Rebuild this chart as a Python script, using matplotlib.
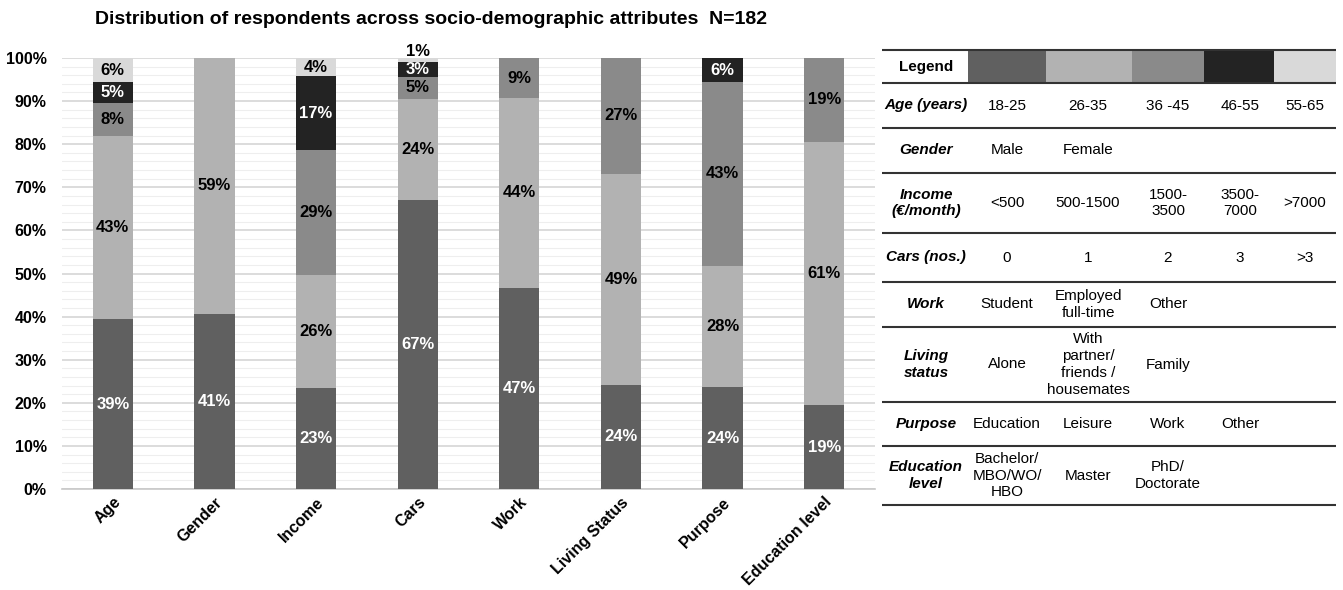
import matplotlib.pyplot as plt
from matplotlib.patches import Rectangle
from matplotlib.ticker import MultipleLocator

plt.rcParams['font.family'] = ['Liberation Sans', 'DejaVu Sans']

categories = ['Age', 'Gender', 'Income', 'Cars', 'Work', 'Living Status', 'Purpose', 'Education level']

# share of respondents (%) for each answer level, bottom to top
age = [39.4, 42.6, 7.6, 4.8, 5.6]
gender = [40.7, 59.3]
income = [23.4, 26.3, 28.9, 17.2, 4.2]
cars = [67.0, 23.6, 5.1, 3.3, 1.0]
work = [46.7, 44.0, 9.3]
living = [24.2, 48.9, 26.9]
purpose = [23.6, 28.2, 42.6, 5.6]
education = [19.4, 61.2, 19.4]
shares = [age, gender, income, cars, work, living, purpose, education]

level_colors = ['#606060', '#b2b2b2', '#8a8a8a', '#232323', '#d9d9d9']
text_colors = ['white', 'black', 'black', 'white', 'black']

# legend table
row_names = ['Age (years)', 'Gender', 'Income\n(€/month)', 'Cars (nos.)', 'Work',
             'Living\nstatus', 'Purpose', 'Education\nlevel']
row_items = [
    ['18-25', '26-35', '36 -45', '46-55', '55-65'],
    ['Male', 'Female'],
    ['<500', '500-1500', '1500-\n3500', '3500-\n7000', '>7000'],
    ['0', '1', '2', '3', '>3'],
    ['Student', 'Employed\nfull-time', 'Other'],
    ['Alone', 'With\npartner/\nfriends /\nhousemates', 'Family'],
    ['Education', 'Leisure', 'Work', 'Other'],
    ['Bachelor/\nMBO/WO/\nHBO', 'Master', 'PhD/\nDoctorate'],
]

W, H = 1343, 590
fig = plt.figure(figsize=(W / 100, H / 100), dpi=100)

ax = fig.add_axes([62 / W, 101 / H, 813 / W, 431 / H])
bar_w = 0.395
for i, vals in enumerate(shares):
    bottom = 0
    for j, v in enumerate(vals):
        ax.bar(i, v, bottom=bottom, width=bar_w, color=level_colors[j], zorder=3)
        lab = f"{v:.0f}%"
        if v >= 2:
            ax.text(i, bottom + v / 2, lab, ha='center', va='center', fontsize=12,
                    fontweight='bold', color=text_colors[j], zorder=4)
        else:
            # too thin, write it above the bar
            ax.annotate(lab, (i, bottom + v), xytext=(0, 5), textcoords='offset points',
                        ha='center', va='center', fontsize=12, fontweight='bold',
                        annotation_clip=False)
        bottom += v

ax.set_xlim(-0.5, len(categories) - 0.5)
ax.set_ylim(0, 100)
ax.yaxis.set_minor_locator(MultipleLocator(2))
ax.set_yticks(range(0, 101, 10))
ax.set_yticklabels([f"{t}%" for t in range(0, 101, 10)], fontsize=11.5, fontweight='bold')
ax.set_xticks(range(len(categories)))
ax.set_xticklabels(categories, rotation=45, ha='right', rotation_mode='anchor',
                   fontsize=11.5, fontweight='bold')
ax.tick_params(axis='y', which='both', length=0, pad=11)
ax.tick_params(axis='x', length=0, pad=4)
ax.grid(axis='y', which='major', color='#d6d6d6', lw=1.2, zorder=0)
ax.grid(axis='y', which='minor', color='#eeeeee', lw=0.8, zorder=0)
for s in ['top', 'right', 'left']:
    ax.spines[s].set_visible(False)
ax.spines['bottom'].set_color('#c8c8c8')
ax.spines['bottom'].set_linewidth(1.2)

fig.text(95 / W, 1 - 20 / H,
         'Distribution of respondents across socio-demographic attributes  N=182',
         fontsize=14, fontweight='bold', va='center', ha='left')

# table drawn in pixel coordinates
tab = fig.add_axes([0, 0, 1, 1])
tab.set_xlim(0, W)
tab.set_ylim(H, 0)
tab.axis('off')

row_edges = [50, 83, 128, 173, 233, 282, 327, 402, 446, 505]
swatch_edges = [968, 1046, 1132, 1204, 1274, 1336]
col_x = [1007, 1088, 1168, 1240, 1305]
name_x = 926
x0, x1 = 882, 1336

for k, c in enumerate(level_colors):
    tab.add_patch(Rectangle((swatch_edges[k], row_edges[0]),
                            swatch_edges[k + 1] - swatch_edges[k],
                            row_edges[1] - row_edges[0], color=c, lw=0))
tab.text(name_x, (row_edges[0] + row_edges[1]) / 2, 'Legend', ha='center', va='center',
         fontsize=11, fontweight='bold')

for y in row_edges:
    tab.plot([x0, x1], [y, y], color='#333333', lw=1.5, solid_capstyle='butt')

for r, (name, items) in enumerate(zip(row_names, row_items)):
    yc = (row_edges[r + 1] + row_edges[r + 2]) / 2
    tab.text(name_x, yc, name, ha='center', va='center', fontsize=11,
             fontweight='bold', style='italic', linespacing=1.25)
    for c, item in enumerate(items):
        tab.text(col_x[c], yc, item, ha='center', va='center', fontsize=11,
                 linespacing=1.25)

fig.savefig('out.png', dpi=100)
